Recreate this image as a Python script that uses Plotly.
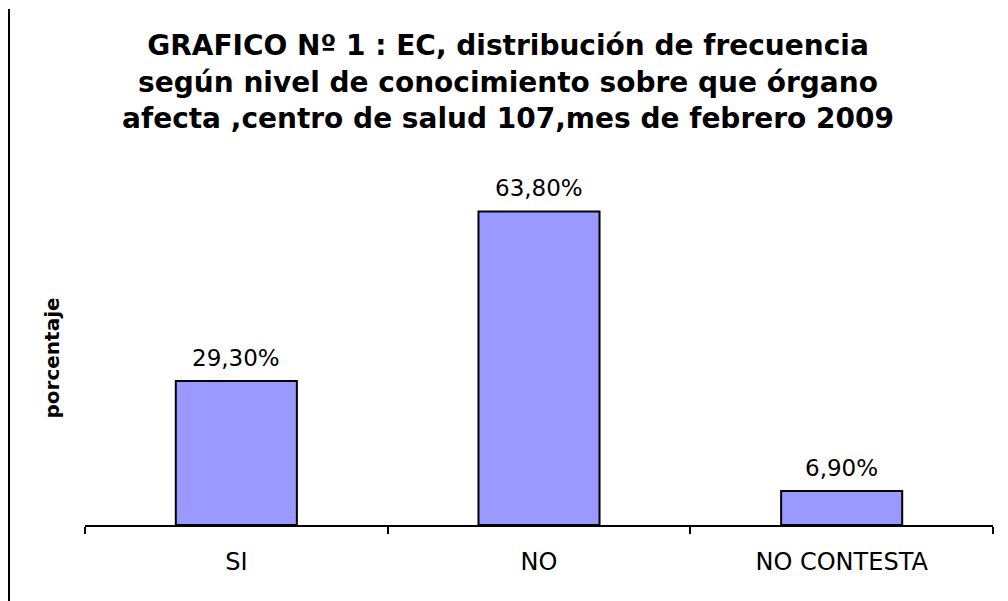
import plotly.graph_objects as go

# Datos del gráfico
categorias = ["SI", "NO", "NO CONTESTA"]
porcentajes = [29.3, 63.8, 6.9]
etiquetas = [f"{v:.2f}%".replace(".", ",") for v in porcentajes]

titulo = ("GRAFICO Nº 1 : EC, distribución de frecuencia<br>"
          "según nivel de conocimiento sobre que órgano<br>"
          "afecta ,centro de salud 107,mes de febrero 2009")

fuente = "DejaVu Sans, Arial, sans-serif"

fig = go.Figure()
fig.add_trace(
    go.Bar(
        x=categorias,
        y=porcentajes,
        marker=dict(color="#9999FF", line=dict(color="black", width=2)),
        width=0.4,
        cliponaxis=False,
    )
)

# Etiquetas de valor sobre cada barra
for cat, val, etq in zip(categorias, porcentajes, etiquetas):
    fig.add_annotation(
        x=cat, y=val, text=etq,
        showarrow=False,
        yanchor="bottom",
        yshift=8,
        font=dict(family=fuente, size=23, color="black"),
    )

# la página añade 8 px de margen al cuerpo: el lienzo se reduce en consecuencia
fig.update_layout(
    width=1000,
    height=593,
    margin=dict(l=77, r=15, t=173, b=76),
    paper_bgcolor="white",
    plot_bgcolor="white",
    showlegend=False,
    title=dict(
        text=titulo,
        x=0.5,
        xref="container",
        y=0.92,
        yanchor="top",
        font=dict(family=fuente, size=28, color="black", weight="bold"),
    ),
    font=dict(family=fuente, color="black"),
)

fig.update_xaxes(
    showline=True,
    linecolor="black",
    linewidth=2,
    ticks="outside",
    tickson="boundaries",
    ticklen=7,
    tickwidth=1.5,
    tickcolor="black",
    ticklabelstandoff=14,
    tickfont=dict(family=fuente, size=24, color="black"),
    showgrid=False,
)
fig.update_yaxes(visible=False, range=[0, 70])

# Título del eje Y
fig.add_annotation(
    text="<b>porcentaje</b>",
    textangle=-90,
    xref="paper", yref="paper",
    x=-0.036, y=0.485,
    xanchor="center", yanchor="middle",
    showarrow=False,
    font=dict(family=fuente, size=20, color="black"),
)

# Línea del borde izquierdo
fig.add_shape(
    type="line",
    xref="paper", yref="paper",
    x0=-0.0837, x1=-0.0837, y0=-0.23, y1=1.5,
    line=dict(color="black", width=2),
)

fig.write_html("out.html")
